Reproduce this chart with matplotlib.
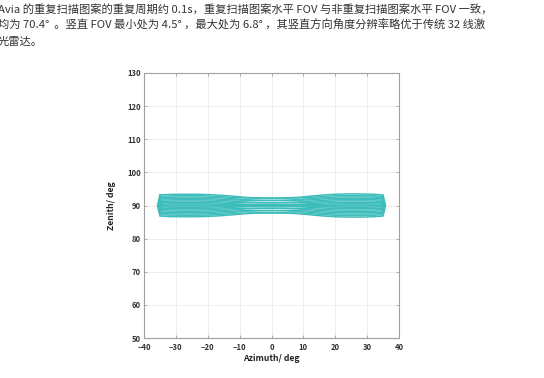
import matplotlib
matplotlib.use("Agg")
import matplotlib.pyplot as plt
import numpy as np

plt.rcParams['font.family'] = ['Noto Sans CJK SC', 'DejaVu Sans']

# ---- text above the chart ----
caption_lines = [
    "Avia 的重复扫描图案的重复周期约 0.1s，重复扫描图案水平 FOV 与非重复扫描图案水平 FOV 一致，",
    "均为 70.4°  。竖直 FOV 最小处为 4.5° ，最大处为 6.8° ，其竖直方向角度分辨率略优于传统 32 线激",
    "光雷达。",
]

# ---- chart data ----
x_ticks = [-40, -30, -20, -10, 0, 10, 20, 30, 40]
y_ticks = [50, 60, 70, 80, 90, 100, 110, 120, 130]
center_zenith = 90.0
# azimuth positions where loop half-heights were read
azimuth_pts = [-35, -32, -28, -24, -20, -16, -12, -8, -4, 0, 4, 8, 12, 16, 20, 24, 28, 32, 35]
# half-height (deg) of each scan loop about 90 deg at those azimuths (outer -> inner)
loop_half_heights = [
    [3.2, 3.35, 3.4, 3.4, 3.3, 3.1, 2.8, 2.45, 2.3, 2.25, 2.3, 2.45, 2.8, 3.15, 3.4, 3.5, 3.5, 3.4, 3.2],
    [2.8, 2.9, 2.95, 2.95, 2.9, 2.7, 2.45, 2.25, 2.2, 2.2, 2.2, 2.25, 2.45, 2.75, 2.95, 3.05, 3.05, 2.95, 2.8],
    [2.4, 2.5, 2.55, 2.55, 2.5, 2.3, 2.05, 1.75, 1.6, 1.55, 1.6, 1.75, 2.05, 2.35, 2.55, 2.6, 2.6, 2.55, 2.4],
    [2.0, 2.1, 2.15, 2.15, 2.1, 1.9, 1.7, 1.55, 1.5, 1.5, 1.5, 1.55, 1.7, 1.95, 2.15, 2.2, 2.2, 2.15, 2.0],
    [1.6, 1.7, 1.75, 1.75, 1.7, 1.55, 1.3, 1.05, 0.9, 0.85, 0.9, 1.05, 1.3, 1.55, 1.75, 1.8, 1.8, 1.75, 1.6],
    [1.2, 1.3, 1.35, 1.35, 1.3, 1.1, 0.95, 0.85, 0.8, 0.8, 0.8, 0.85, 0.95, 1.15, 1.35, 1.4, 1.4, 1.35, 1.2],
    [0.85, 0.9, 0.95, 0.95, 0.9, 0.75, 0.55, 0.35, 0.25, 0.2, 0.25, 0.35, 0.55, 0.75, 0.9, 0.95, 0.95, 0.9, 0.85],
    [0.45, 0.5, 0.55, 0.55, 0.5, 0.4, 0.3, 0.2, 0.15, 0.15, 0.15, 0.2, 0.3, 0.4, 0.5, 0.55, 0.55, 0.5, 0.45],
    [0.12, 0.15, 0.15, 0.15, 0.15, 0.12, 0.1, 0.08, 0.06, 0.05, 0.06, 0.08, 0.1, 0.12, 0.15, 0.15, 0.15, 0.15, 0.12],
]
# azimuth where each loop turns round (outer -> inner)
loop_end_az = [35.8, 35.5, 35.2, 35.0, 34.8, 34.6, 34.4, 34.2, 34.0]
line_color = "#3dbdbb"

fig = plt.figure(figsize=(5.44, 3.78), dpi=100)

# caption text
for i, line in enumerate(caption_lines):
    fig.text(-2 / 544, 1 - (9 + i * 16.5) / 378, line, fontsize=8.1,
             color="#333333", va="center", ha="left")

ax = fig.add_axes([144 / 544, 1 - 338 / 378, 255 / 544, 265 / 378])

az = np.array(azimuth_pts, dtype=float)
for hh, end in zip(loop_half_heights, loop_end_az):
    hh = np.array(hh)
    xs = np.concatenate([az, [end], az[::-1], [-end], [az[0]]])
    ys = np.concatenate([center_zenith + hh, [center_zenith], center_zenith - hh[::-1],
                         [center_zenith], [center_zenith + hh[0]]])
    ax.plot(xs, ys, color=line_color, lw=1.05, solid_joinstyle="round")

ax.set_xlim(-40, 40)
ax.set_ylim(50, 130)
ax.set_xticks(x_ticks)
ax.set_yticks(y_ticks)
ax.grid(True, color="#ebebeb", lw=0.6)
ax.set_axisbelow(True)
for s in ax.spines.values():
    s.set_color("#a0a0a0")
    s.set_linewidth(0.8)
ax.tick_params(direction="in", length=2.5, width=0.6, color="#a0a0a0",
               labelsize=5.5, labelcolor="#333333", top=True, right=True, pad=2)
ax.tick_params(axis="x", pad=3.5)
for lab in ax.get_xticklabels() + ax.get_yticklabels():
    lab.set_fontweight("bold")
ax.set_xlabel("Azimuth/ deg", fontsize=6.2, fontweight="bold", color="#222222", labelpad=1.5)
ax.set_ylabel("Zenith/ deg", fontsize=6.2, fontweight="bold", color="#222222", labelpad=8)

fig.savefig("out.png", dpi=100)
